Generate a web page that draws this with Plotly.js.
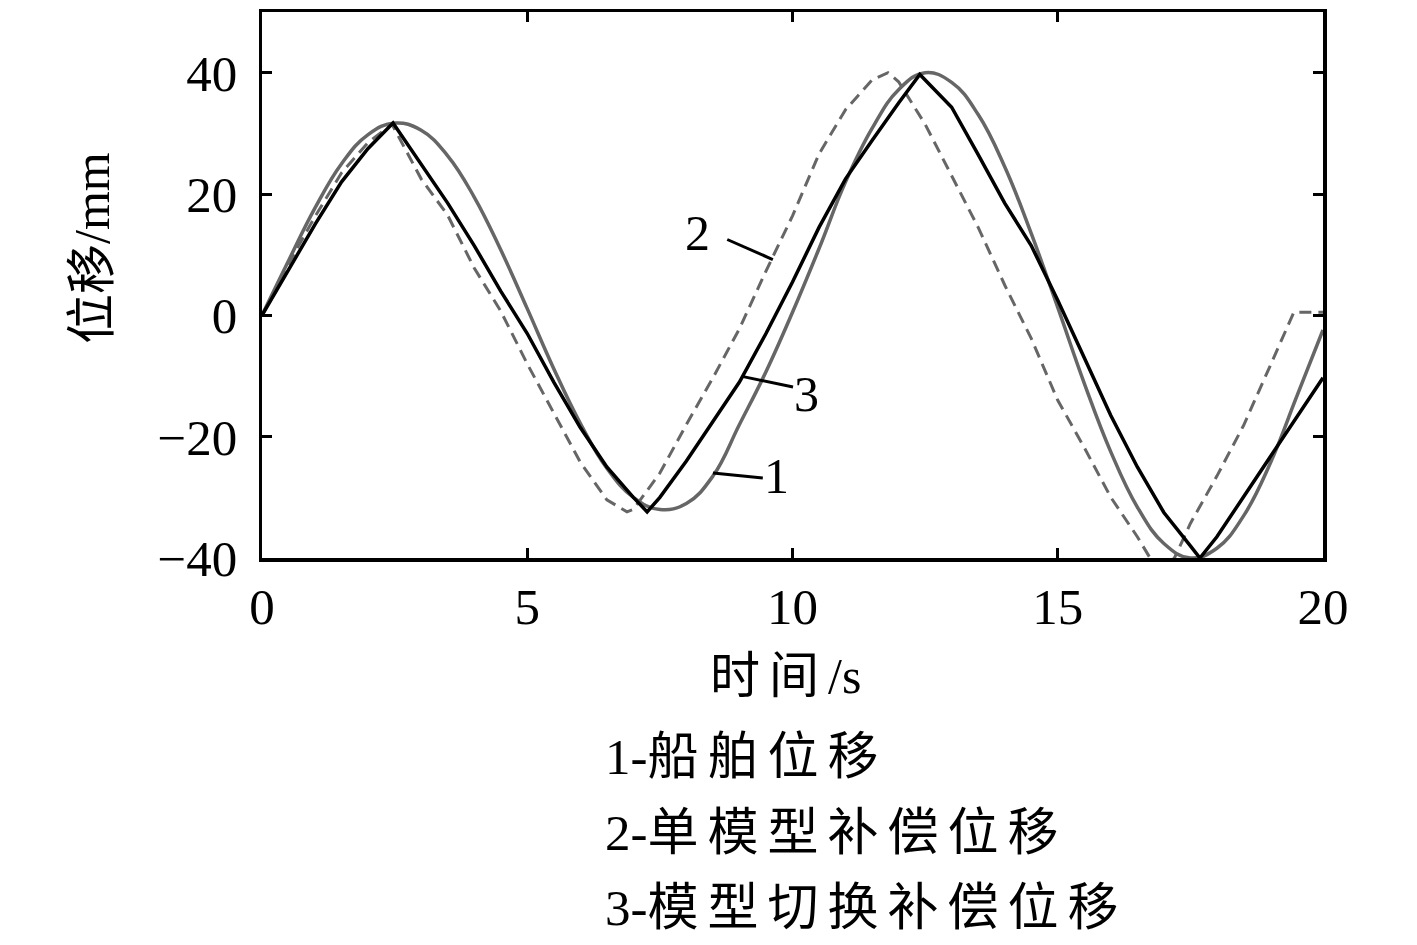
<!DOCTYPE html>
<html>
<head>
<meta charset="utf-8">
<script src="https://cdn.plot.ly/plotly-3.0.1.min.js"></script>
<style>
html,body{margin:0;padding:0;background:#fff;}
#chart{width:1417px;height:945px;}
</style>
</head>
<body>
<div id="chart"></div>
<script>
// Time axis samples (s)
var timeShip = [0,0.5,1,1.5,2,2.5,3,3.5,4,4.5,5,5.5,6,6.5,7,7.5,8,8.5,9,9.5,10,10.5,11,11.5,12,12.5,13,13.5,14,14.5,15,15.5,16,16.5,17,17.5,18,18.5,19,19.5,20];
// 1 - ship displacement (mm)
var shipDisp = [0,9,17.7,25,29.8,31.7,30.5,26.3,19.5,10.8,1.1,-8.8,-17.8,-25.2,-30,-32,-31,-26.5,-18,-9.3,0.5,11,22,30.8,37.2,40,38.4,33.1,24.5,13.5,1.3,-11.2,-22.5,-31.6,-37.6,-40,-38.4,-33.1,-24.5,-13.5,-2.4];

// 2 - single-model compensation displacement (mm)
var timeSingle = [0,0.5,1,1.5,2,2.45,3,3.5,4,4.5,5,5.5,6,6.5,6.88,7,7.5,8,8.5,9,9.5,10,10.5,11,11.5,11.8,12,12.5,13,13.5,14,14.5,15,15.5,16,16.5,16.74,17,17.2,17.5,18,18.5,19,19.45,20];
var singleDisp = [0,8.5,16.3,23.5,28.5,31.5,22.5,16.5,7.8,0.7,-8,-16.2,-24.2,-30.4,-32.4,-32,-26,-18,-10.3,-2.2,7.3,16.4,26.6,33.9,38.8,40,38.5,31.5,23,14.5,5,-3.8,-14,-21.8,-30,-36.5,-40,-41.5,-40,-34.3,-26.5,-18.2,-8.4,0.5,0.5];

// 3 - model-switching compensation displacement (mm)
var timeSwitch = [0,0.5,1,1.5,2,2.47,3,3.5,4,4.5,5,5.5,6,6.5,7,7.26,7.5,8,8.5,9,9.5,10,10.5,11,11.5,12,12.4,13,13.5,14,14.5,15,15.5,16,16.5,17,17.5,17.68,18,18.5,19,19.5,20];
var switchDisp = [0,7.5,15,22,27.5,31.7,25,18.5,11.5,4,-3,-11,-18.5,-25,-30,-32.4,-30,-24,-17.5,-11,-3,5.5,14.5,22.5,28.8,35,39.7,34.3,26.5,18.5,11.5,2.5,-7,-16.5,-25,-32.5,-38,-40,-36.5,-30,-23.5,-17,-10.3];

var xTicks = [0,5,10,15,20];
var yTicks = [-40,-20,0,20,40];
var xTitle = '时间/s';
var yTitle = '位移/mm';
var captions = ['1-船舶位移','2-单模型补偿位移','3-模型切换补偿位移'];
var curveLabels = ['1','2','3'];

var FONT = 'Liberation Serif, "Noto Sans CJK SC", serif';

// wrap runs of CJK characters so they get the wider Song-style spacing of the original
function spaced(s){
  return s.replace(/([\u4e00-\u9fff]+)/g, '<span style="letter-spacing:9px">$1</span>');
}

var traces = [
  {x: timeShip, y: shipDisp, mode:'lines', line:{color:'#666666', width:3.5, shape:'spline', smoothing:1.2}, name: captions[0]},
  {x: timeSingle, y: singleDisp, mode:'lines', line:{color:'#666666', width:3, dash:'12px,7px'}, name: captions[1]},
  {x: timeSwitch, y: switchDisp, mode:'lines', line:{color:'#000000', width:3.5}, name: captions[2]}
];

var annotations = [
  {xref:'x', yref:'y', x:9.7, y:-26.5, text:curveLabels[0], showarrow:false, font:{family:FONT, size:50, color:'#000'}},
  {xref:'x', yref:'y', x:8.2, y:13.5, text:curveLabels[1], showarrow:false, font:{family:FONT, size:50, color:'#000'}},
  {xref:'x', yref:'y', x:10.27, y:-13, text:curveLabels[2], showarrow:false, font:{family:FONT, size:50, color:'#000'}},
  {xref:'paper', yref:'paper', x:(92-262)/1061, y:(558-248)/546, xanchor:'center', yanchor:'middle', textangle:-90,
    text:yTitle, showarrow:false, font:{family:FONT, size:50, color:'#000'}},
  {xref:'paper', yref:'paper', x:(785-262)/1061, y:(558-676)/546, xanchor:'center', yanchor:'middle',
    text:spaced(xTitle), showarrow:false, font:{family:FONT, size:50, color:'#000'}}
];
var capY = [757, 833, 908];
for (var i = 0; i < captions.length; i++) {
  annotations.push({xref:'paper', yref:'paper', x:(603-262)/1061, xanchor:'left', y:(558-capY[i])/546, yanchor:'middle',
    text:spaced(captions[i]), showarrow:false, font:{family:FONT, size:51, color:'#000'}});
}

var shapes = [
  {type:'line', xref:'x', yref:'y', x0:8.5, y0:-26, x1:9.44, y1:-26.8, line:{color:'#000', width:3}},
  {type:'line', xref:'x', yref:'y', x0:8.77, y0:12.5, x1:9.63, y1:9.2, line:{color:'#000', width:3}},
  {type:'line', xref:'x', yref:'y', x0:9.07, y0:-10.1, x1:10.01, y1:-11.8, line:{color:'#000', width:3}}
];

var layout = {
  width:1417, height:945,
  margin:{l:262, r:94, t:12, b:387},
  paper_bgcolor:'#fff', plot_bgcolor:'#fff',
  showlegend:false,
  font:{family:FONT, color:'#000'},
  xaxis:{range:[0,20], tickvals:xTicks, ticktext:xTicks.map(String), ticks:'inside', ticklen:10, tickwidth:3, tickcolor:'#000',
    showline:true, linewidth:3.5, linecolor:'#000', mirror:'allticks', showgrid:false, zeroline:false,
    tickfont:{family:FONT, size:51, color:'#000'}, ticklabelstandoff:1},
  yaxis:{range:[-40,50], tickvals:yTicks, ticktext:yTicks.map(function(v){return v<0?'\u2212'+Math.abs(v):String(v);}), ticks:'inside', ticklen:10, tickwidth:3, tickcolor:'#000',
    showline:true, linewidth:3.5, linecolor:'#000', mirror:'allticks', showgrid:false, zeroline:false,
    tickfont:{family:FONT, size:51, color:'#000'}, ticklabelstandoff:11},
  annotations: annotations,
  shapes: shapes
};

Plotly.newPlot('chart', traces, layout, {displayModeBar:false, staticPlot:true});
</script>
</body>
</html>
